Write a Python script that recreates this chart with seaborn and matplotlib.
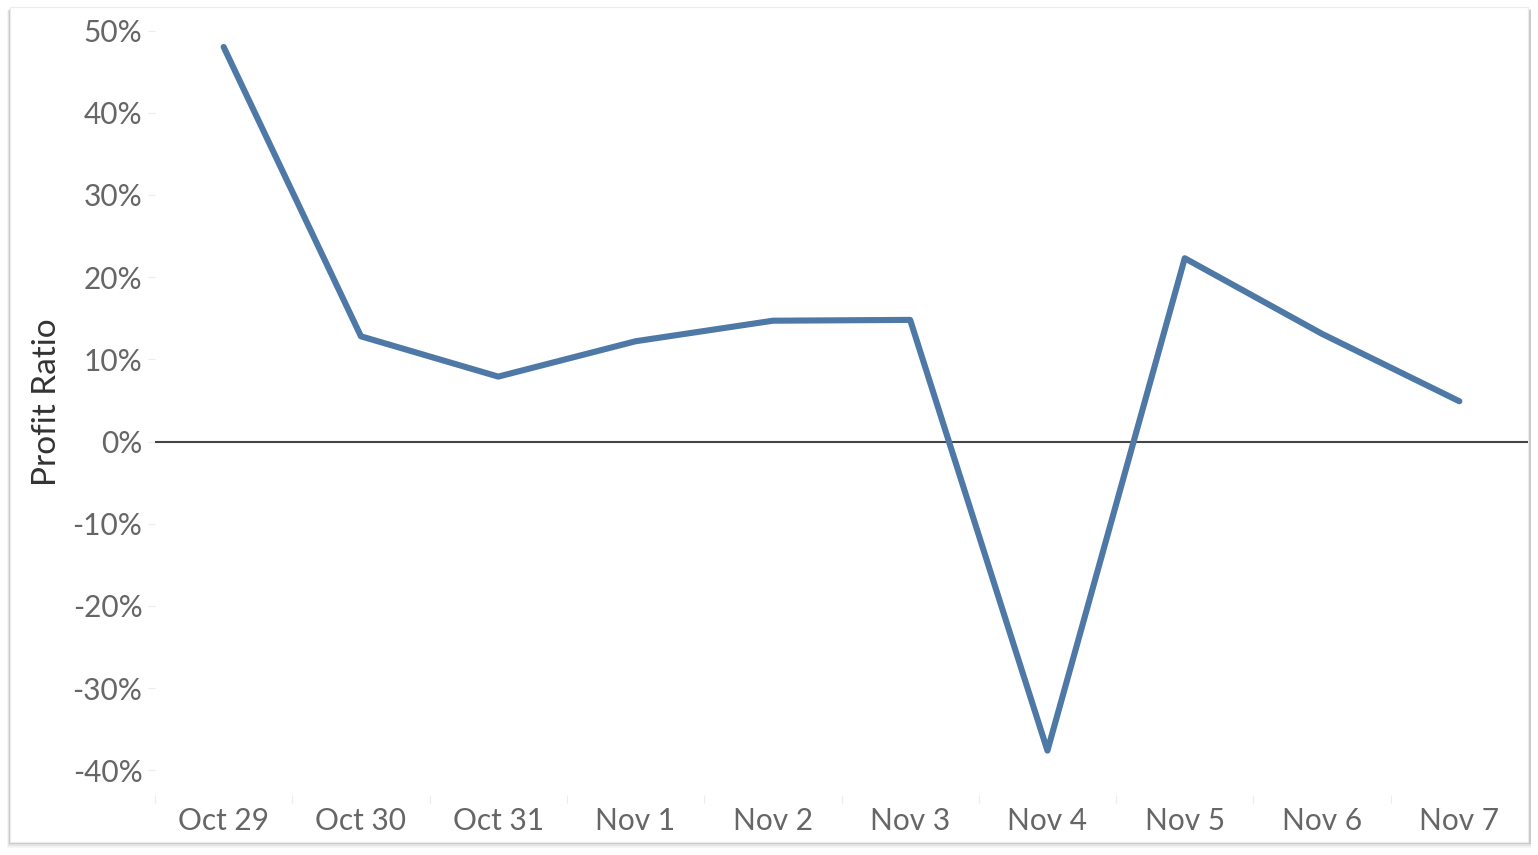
import matplotlib
matplotlib.use("Agg")
import matplotlib.pyplot as plt
from matplotlib.patches import Rectangle
from matplotlib.ticker import FixedLocator, FuncFormatter
import seaborn as sns
import pandas as pd

dates = ["Oct 29", "Oct 30", "Oct 31", "Nov 1", "Nov 2",
         "Nov 3", "Nov 4", "Nov 5", "Nov 6", "Nov 7"]
profit_ratio = [48.0, 12.8, 7.9, 12.2, 14.7, 14.8, -37.6, 22.3, 13.1, 4.9]
y_ticks = [-40, -30, -20, -10, 0, 10, 20, 30, 40, 50]

sns.set_style("white")
plt.rcParams["font.family"] = ["Lato", "DejaVu Sans"]

df = pd.DataFrame({"date": dates, "ratio": profit_ratio})

fig = plt.figure(figsize=(15.38, 8.55), dpi=100)
fig.patch.set_facecolor("white")

# card with soft shadow
W, H = 1538, 855
for i, a in enumerate([0.04, 0.07, 0.11]):
    fig.patches.append(Rectangle(((10 - 3 + i) / W, (13 - 6 + i * 2) / H),
                                 (1518 + 6 - i) / W, (835 + 2 - i) / H,
                                 transform=fig.transFigure, facecolor="black",
                                 alpha=a, edgecolor="none", zorder=0))
fig.patches.append(Rectangle((10 / W, 13 / H), 1518 / W, 835 / H,
                             transform=fig.transFigure, facecolor="white",
                             edgecolor="#ececec", linewidth=0.8, zorder=1))

ax = fig.add_axes([155 / W, 1 - 795 / H, (1528 - 155) / W, (795 - 10) / H])
ax.set_facecolor("none")
ax.set_zorder(2)

ax.axhline(0, color="#444444", linewidth=1.5, zorder=1)
sns.lineplot(data=df, x="date", y="ratio", ax=ax, color="#4e79a7",
             linewidth=4.4, sort=False, zorder=3)

ax.set_xlim(-0.5, len(dates) - 0.5)
ax.set_ylim(-43, 52.5)
ax.set_yticks(y_ticks)
ax.yaxis.set_major_formatter(FuncFormatter(lambda v, p: f"{v:.0f}%"))
ax.xaxis.set_minor_locator(FixedLocator([i - 0.5 for i in range(len(dates) + 1)]))

for s in ax.spines.values():
    s.set_visible(False)

ax.tick_params(axis="y", which="major", left=True, length=5, width=0.8,
               color="#ececec", labelsize=21.5, labelcolor="#666666", pad=4)
ax.tick_params(axis="x", which="major", bottom=False, labelsize=21.5,
               labelcolor="#666666", pad=5)
ax.tick_params(axis="x", which="minor", bottom=True, length=6, width=0.8,
               color="#ececec")

ax.set_xlabel("")
ax.set_ylabel("Profit Ratio", fontsize=24, color="#333333", labelpad=8)

fig.savefig("out.png", dpi=100, facecolor="white")
